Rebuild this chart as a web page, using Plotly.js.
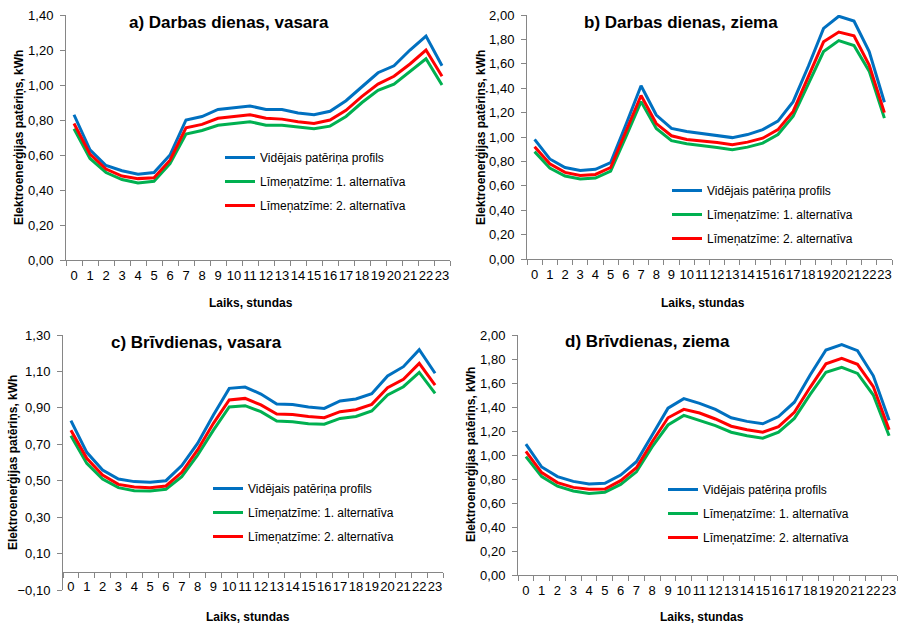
<!DOCTYPE html>
<html>
<head>
<meta charset="utf-8">
<script src="https://cdn.plot.ly/plotly-3.0.1.min.js"></script>
<style>html,body{margin:0;padding:0;background:#fff;}#chart{width:900px;height:625px;}</style>
</head>
<body>
<div id="chart"></div>
<script>
const hours = ['0','1','2','3','4','5','6','7','8','9','10','11','12','13','14','15','16','17','18','19','20','21','22','23'];
const seriesNames = ['Vidējais patēriņa profils', 'Līmeņatzīme: 1. alternatīva', 'Līmeņatzīme: 2. alternatīva'];
const panelTitles = ['a) Darbas dienas, vasara', 'b) Darbas dienas, ziema', 'c) Brīvdienas, vasara', 'd) Brīvdienas, ziema'];
const yTitle = 'Elektroenerģijas patēriņs, kWh';
const xTitle = 'Laiks, stundas';

const aBlue  = [0.83,0.63,0.54,0.51,0.49,0.50,0.60,0.80,0.82,0.86,0.87,0.88,0.86,0.86,0.84,0.83,0.85,0.91,0.99,1.07,1.11,1.20,1.28,1.11];
const aGreen = [0.75,0.58,0.50,0.46,0.44,0.45,0.55,0.72,0.74,0.77,0.78,0.79,0.77,0.77,0.76,0.75,0.765,0.82,0.90,0.97,1.005,1.08,1.15,1.00];
const aRed   = [0.78,0.605,0.52,0.48,0.465,0.47,0.57,0.755,0.775,0.81,0.82,0.83,0.81,0.805,0.79,0.78,0.80,0.855,0.935,1.005,1.05,1.12,1.20,1.05];

const bBlue  = [0.98,0.82,0.75,0.725,0.735,0.79,1.10,1.42,1.18,1.07,1.045,1.03,1.01,0.995,1.02,1.06,1.13,1.29,1.58,1.89,1.99,1.95,1.70,1.285];
const bGreen = [0.88,0.745,0.68,0.655,0.663,0.72,1.00,1.29,1.07,0.97,0.944,0.93,0.914,0.895,0.917,0.95,1.02,1.17,1.44,1.70,1.79,1.75,1.54,1.155];
const bRed   = [0.92,0.78,0.71,0.685,0.693,0.75,1.045,1.34,1.11,1.01,0.98,0.97,0.955,0.936,0.958,0.99,1.06,1.21,1.495,1.78,1.86,1.83,1.59,1.20];

const cBlue  = [0.83,0.656,0.559,0.509,0.495,0.491,0.50,0.583,0.705,0.861,1.007,1.014,0.976,0.921,0.919,0.905,0.897,0.938,0.949,0.978,1.075,1.126,1.219,1.09];
const cGreen = [0.747,0.595,0.509,0.462,0.445,0.443,0.453,0.522,0.641,0.778,0.905,0.912,0.879,0.828,0.824,0.813,0.81,0.842,0.853,0.883,0.971,1.016,1.095,0.98];
const cRed   = [0.777,0.623,0.531,0.48,0.465,0.462,0.471,0.546,0.669,0.815,0.943,0.952,0.916,0.866,0.864,0.852,0.846,0.879,0.89,0.919,1.011,1.057,1.144,1.025];

const dBlue  = [1.09,0.90,0.82,0.78,0.758,0.764,0.833,0.944,1.167,1.39,1.47,1.43,1.38,1.31,1.28,1.26,1.32,1.44,1.667,1.875,1.92,1.87,1.66,1.29];
const dGreen = [0.986,0.82,0.74,0.70,0.68,0.69,0.755,0.86,1.07,1.25,1.33,1.29,1.245,1.19,1.16,1.14,1.19,1.305,1.505,1.69,1.73,1.68,1.50,1.16];
const dRed   = [1.03,0.853,0.77,0.73,0.714,0.717,0.786,0.894,1.11,1.31,1.38,1.35,1.30,1.24,1.21,1.19,1.236,1.356,1.564,1.76,1.806,1.756,1.57,1.21];

const panelData = [[aBlue,aGreen,aRed],[bBlue,bGreen,bRed],[cBlue,cGreen,cRed],[dBlue,dGreen,dRed]];
const yRanges = [[0,1.4],[0,2],[-0.1,1.3],[0,2]];
const colors = ['#0070C0','#00B050','#FF0000'];

const W = 900, H = 625;
const FONT = '"Liberation Sans", Arial, sans-serif';
// plot boxes in px: [left, right, top, bottom]
const boxes = [[66,450,15,260],[527,892,15,259],[63,443,335,590],[518,897,335,575]];
const legendPos = [[220,143],[667,176],[208,474],[663,475]];
const yTitlePos = [[19,138],[481,138],[13,463],[471,455]];
const xTitlePos = [[251,303],[703,303],[248,617],[702,617]];
const titlePos = [[229,23],[681,23],[196,342],[647,341]];

const traces = [];
const layout = {
  width: W, height: H,
  margin: {l:0,r:0,t:0,b:0},
  paper_bgcolor: '#fff', plot_bgcolor: '#fff',
  separators: ', ',
  font: {family: FONT, size: 13, color: '#000'},
  showlegend: true,
  annotations: []
};

panelData.forEach((series, p) => {
  const n = p + 1;
  const xa = 'xaxis' + (n === 1 ? '' : n), ya = 'yaxis' + (n === 1 ? '' : n);
  const xr = 'x' + (n === 1 ? '' : n), yr = 'y' + (n === 1 ? '' : n);
  const lg = 'legend' + (n === 1 ? '' : n);
  const [l, r, t, b] = boxes[p];
  series.forEach((vals, s) => {
    traces.push({
      type: 'scatter', mode: 'lines', x: hours, y: vals,
      xaxis: xr, yaxis: yr, name: seriesNames[s],
      legend: lg, legendgroup: 'g' + p + s,
      line: {color: colors[s], width: 3}, hoverinfo: 'skip'
    });
  });
  const yDom = [1 - b / H, 1 - t / H];
  const yRange = yRanges[p];
  const xAxis = {
    domain: [l / W, r / W], type: 'category', range: [-0.5, 23.5],
    tickmode: 'linear', dtick: 1, tickangle: 0,
    showline: true, linecolor: '#868686', linewidth: 1,
    ticks: 'outside', tickson: 'boundaries', ticklen: 5, tickcolor: '#868686',
    showgrid: false, zeroline: false, fixedrange: true,
    tickfont: {family: FONT, size: 13}, anchor: yr, ticklabelstandoff: 3
  };
  if (yRange[0] < 0) {
    xAxis.anchor = 'free';
    xAxis.position = yDom[0] + (yDom[1] - yDom[0]) * (0 - yRange[0]) / (yRange[1] - yRange[0]);
  }
  layout[xa] = xAxis;
  layout[ya] = {
    domain: yDom, range: yRange, tick0: yRange[0], dtick: 0.2, tickformat: '.2f',
    showline: true, linecolor: '#868686', linewidth: 1,
    ticks: 'outside', ticklen: 5, tickcolor: '#868686',
    showgrid: false, zeroline: false, fixedrange: true,
    tickfont: {family: FONT, size: 13}, anchor: xr, ticklabelstandoff: 4
  };
  layout[lg] = {
    x: legendPos[p][0] / W, y: 1 - legendPos[p][1] / H, xanchor: 'left', yanchor: 'top',
    bgcolor: 'rgba(0,0,0,0)', borderwidth: 0, tracegroupgap: 5,
    font: {family: FONT, size: 12, color: '#000'}, itemwidth: 30
  };
  layout.annotations.push({
    text: '<b>' + panelTitles[p] + '</b>', xref: 'paper', yref: 'paper',
    x: titlePos[p][0] / W, y: 1 - titlePos[p][1] / H, xanchor: 'center', yanchor: 'middle',
    showarrow: false, font: {family: FONT, size: 17, color: '#000'}
  });
  layout.annotations.push({
    text: '<b>' + yTitle + '</b>', xref: 'paper', yref: 'paper', textangle: -90,
    x: yTitlePos[p][0] / W, y: 1 - yTitlePos[p][1] / H, xanchor: 'center', yanchor: 'middle',
    showarrow: false, font: {family: FONT, size: 12, color: '#000'}
  });
  layout.annotations.push({
    text: '<b>' + xTitle + '</b>', xref: 'paper', yref: 'paper',
    x: xTitlePos[p][0] / W, y: 1 - xTitlePos[p][1] / H, xanchor: 'center', yanchor: 'middle',
    showarrow: false, font: {family: FONT, size: 12, color: '#000'}
  });
});

Plotly.newPlot('chart', traces, layout, {staticPlot: true, displayModeBar: false});
</script>
</body>
</html>
